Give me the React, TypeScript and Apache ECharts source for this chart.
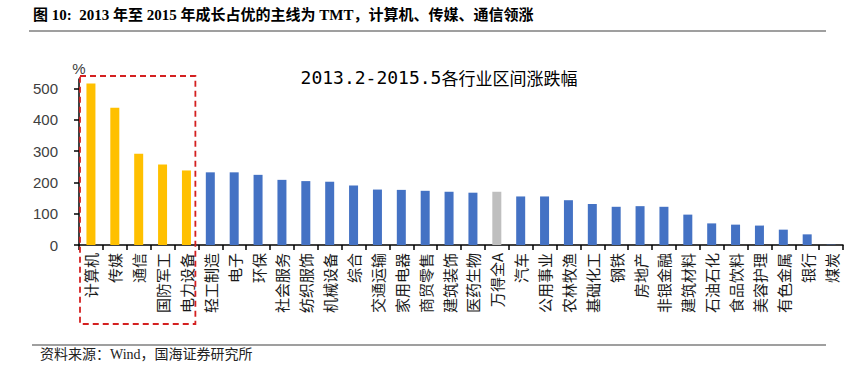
import React, { useEffect, useRef } from "react";
import * as echarts from "echarts";

const categories = [
  "计算机", "传媒", "通信", "国防军工", "电力设备", "轻工制造", "电子", "环保",
  "社会服务", "纺织服饰", "机械设备", "综合", "交通运输", "家用电器", "商贸零售", "建筑装饰",
  "医药生物", "万得全A", "汽车", "公用事业", "农林牧渔", "基础化工", "钢铁", "房地产",
  "非银金融", "建筑材料", "石油石化", "食品饮料", "美容护理", "有色金属", "银行", "煤炭",
];
const values = [
  516, 438, 291, 257, 238, 232, 232, 224,
  208, 204, 202, 190, 177, 176, 173, 170,
  167, 170, 155, 155, 143, 131, 122, 124,
  122, 97, 69, 65, 62, 49, 34, 1,
];
const yTicks = [0, 100, 200, 300, 400, 500];
const leaders = ["计算机", "传媒", "通信", "国防军工", "电力设备"];
const benchmark = "万得全A";

const headerText = "图 10:  2013 年至 2015 年成长占优的主线为 TMT，计算机、传媒、通信领涨";
const chartTitleA = "2013.2-2015.5";
const chartTitleB = "各行业区间涨跌幅";
const sourceText = "资料来源：Wind，国海证券研究所";

const YELLOW = "#FFC000";
const BLUE = "#4472C4";
const GRAY = "#BFBFBF";

export default function App() {
  const ref = useRef<HTMLDivElement>(null);
  useEffect(() => {
    if (!ref.current) return;
    const chart = echarts.init(ref.current, undefined, { renderer: "svg" });
    const data = values.map((v, i) => {
      const c = categories[i];
      const color = leaders.includes(c) ? YELLOW : c === benchmark ? GRAY : BLUE;
      return { value: v, itemStyle: { color } };
    });
    const option: any = {
      animation: false,
      backgroundColor: "#fff",
      grid: { left: 79, right: 9, top: 79, bottom: 131, containLabel: false },
      xAxis: {
        type: "category",
        data: categories,
        boundaryGap: true,
        axisLine: { show: true, lineStyle: { color: "#000", width: 1.5 } },
        axisTick: { show: true, interval: 0, length: 5, alignWithLabel: false, lineStyle: { color: "#000", width: 1.5 } },
        axisLabel: {
          interval: 0,
          rotate: 90,
          margin: 8,
          fontSize: 15,
          color: "#1a1a1a",
          fontFamily: "Noto Sans CJK SC",
        },
      },
      yAxis: {
        type: "value",
        min: 0,
        max: 530,
        name: "%",
        nameLocation: "end",
        nameGap: 3,
        nameTextStyle: { fontSize: 15, color: "#404040", fontFamily: "Liberation Sans" },
        splitLine: { show: false },
        axisLine: { show: true, lineStyle: { color: "#000", width: 1.5 } },
        axisTick: { show: true, length: 5, customValues: yTicks, lineStyle: { color: "#000", width: 1.5 } },
        axisLabel: {
          customValues: yTicks,
          margin: 21,
          fontSize: 15,
          color: "#404040",
          fontFamily: "Liberation Sans",
        },
      },
      series: [
        {
          type: "bar",
          data,
          barWidth: 9,
        },
      ],
      graphic: [
        {
          type: "text",
          left: 33,
          top: 7,
          style: {
            text: headerText,
            font: 'bold 15px "Liberation Serif", "Noto Sans CJK SC"',
            fill: "#000",
          },
        },
        {
          type: "line",
          shape: { x1: 29, y1: 31, x2: 826, y2: 31 },
          style: { stroke: "#7f7f7f", lineWidth: 1.5 },
        },
        {
          type: "text",
          x: 439,
          y: 77,
          style: {
            text: `{a|${chartTitleA}}{b|${chartTitleB}}`,
            align: "center",
            verticalAlign: "middle",
            rich: {
              a: { fontSize: 18, fontFamily: "DejaVu Sans Mono", fill: "#000" },
              b: { fontSize: 17, fontFamily: "Noto Sans CJK SC", fill: "#000" },
            },
          },
        },
        {
          type: "line",
          shape: { x1: 32, y1: 345, x2: 826, y2: 345 },
          style: { stroke: "#7f7f7f", lineWidth: 1.5 },
        },
        {
          type: "text",
          left: 40,
          top: 347,
          style: {
            text: sourceText,
            font: '14px "Liberation Serif", "Noto Sans CJK SC"',
            fill: "#222",
          },
        },
      ],
    };
    chart.setOption(option);

    // red dashed box around the leading categories, placed from the axis scale
    const first = chart.convertToPixel({ xAxisIndex: 0 }, 0) as number;
    const last = chart.convertToPixel({ xAxisIndex: 0 }, leaders.length - 1) as number;
    const band = (last - first) / (leaders.length - 1);
    const x0 = first - band / 2 + 1;
    const x1 = last + band / 2 - 3;
    const graphics = option.graphic.concat([
      {
        type: "rect",
        shape: { x: x0, y: 76, width: x1 - x0, height: 324 - 76 },
        style: { fill: "none", stroke: "#D42020", lineWidth: 1.8, lineDash: [6, 4] },
        z: 100,
      },
    ]);
    chart.setOption({ graphic: graphics }, { replaceMerge: ["graphic"] });

    return () => chart.dispose();
  }, []);
  return (
    <div
      ref={ref}
      style={{ position: "fixed", left: 0, top: 0, width: 852, height: 376, background: "#fff" }}
    />
  );
}
